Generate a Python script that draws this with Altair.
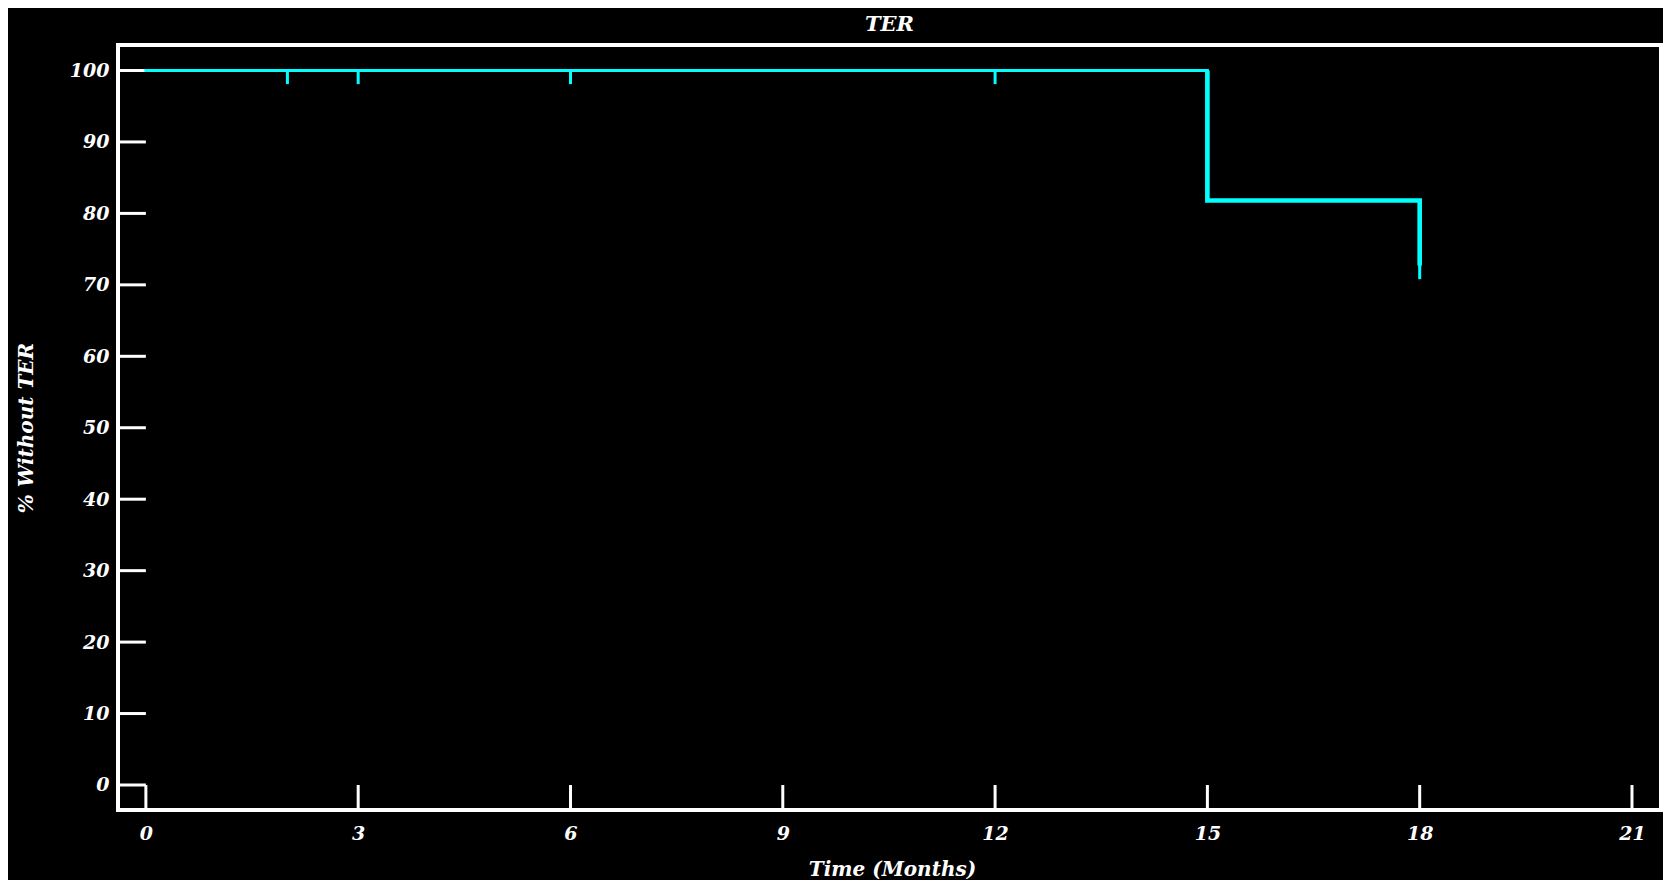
import altair as alt
import pandas as pd

# ---- data ----
km_time = [0, 15, 18]            # months at which the survival curve changes
km_surv = [100, 81.8, 72.7]      # % without TER
censor_time = [2, 3, 6, 12, 18]  # censored observations
censor_surv = [100, 100, 100, 100, 72.7]
x_ticks = [0, 3, 6, 9, 12, 15, 18, 21]
y_ticks = [0, 10, 20, 30, 40, 50, 60, 70, 80, 90, 100]

X_DOMAIN = [-0.394, 21.41]
Y_DOMAIN = [-3.5, 103.57]
CENSOR_LEN = 1.9

W, H = 1543, 765
FONT = "DejaVu Serif"
CYAN = "#00FFFF"

xs = alt.Scale(domain=X_DOMAIN, nice=False, zero=False)
ys = alt.Scale(domain=Y_DOMAIN, nice=False, zero=False)

x_axis = alt.Axis(
    values=x_ticks, title="Time (Months)", ticks=False, tickSize=0, domain=False, grid=False,
    labelPadding=23, labelBaseline="middle", labelFlush=False, labelOverlap=False,
    titleX=774, titleY=59, titleAlign="center", titleBaseline="middle",
)
y_axis = alt.Axis(
    values=y_ticks, title="% Without TER", ticks=False, tickSize=0, domain=False, grid=False,
    labelPadding=9, labelBaseline="middle", labelFlush=False, labelOverlap=False,
    titleX=-92, titleY=H / 2, titleAngle=270, titleAlign="center", titleBaseline="middle",
)

X = alt.X("x:Q", scale=xs, axis=x_axis)
Y = alt.Y("y:Q", scale=ys, axis=y_axis)

# KM step curve
km_df = pd.DataFrame({"x": km_time, "y": km_surv})
# later (thicker) part of the curve, from the first drop onward
late_df = pd.DataFrame({"x": [km_time[1]] + km_time[1:], "y": [km_surv[0]] + km_surv[1:]})

cens_df = pd.DataFrame({"x": censor_time, "y": censor_surv})
cens_df["y2"] = cens_df["y"] - CENSOR_LEN

ytick_df = pd.DataFrame({"y": y_ticks, "x": X_DOMAIN[0], "x2": 0})
xtick_df = pd.DataFrame({"x": x_ticks, "y": Y_DOMAIN[0], "y2": 0})

ytick_layer = alt.Chart(ytick_df).mark_rule(color="white", strokeWidth=3).encode(
    x=X, x2="x2:Q", y=Y
)
xtick_layer = alt.Chart(xtick_df).mark_rule(color="white", strokeWidth=3).encode(
    x=X, y=Y, y2="y2:Q"
)
km_layer = alt.Chart(km_df).mark_line(
    color=CYAN, strokeWidth=3, interpolate="step-after", strokeCap="square"
).encode(x=X, y=Y)
late_layer = alt.Chart(late_df).mark_line(
    color=CYAN, strokeWidth=4.6, interpolate="step-after", strokeCap="butt"
).encode(x=X, y=Y)
cens_layer = alt.Chart(cens_df).mark_rule(color=CYAN, strokeWidth=3).encode(
    x=X, y=Y, y2="y2:Q"
)

chart = (
    alt.layer(ytick_layer, xtick_layer, km_layer, late_layer, cens_layer)
    .properties(
        width=W,
        height=H,
        autosize=alt.AutoSizeParams(type="none"),
        padding={"left": 110, "top": 37, "right": 2, "bottom": 70},
        title=alt.Title(
            "TER", font=FONT, fontSize=21, fontWeight="bold", fontStyle="italic",
            color="white", anchor="middle", frame="group", offset=10,
        ),
        background="black",
    )
    .configure_view(stroke="white", strokeWidth=4)
    .configure_axis(
        labelFont=FONT, labelFontSize=19, labelFontWeight="bold", labelFontStyle="italic",
        labelColor="white",
        titleFont=FONT, titleFontSize=20, titleFontWeight="bold", titleFontStyle="italic",
        titleColor="white",
    )
)

chart.save("out.html", embed_options={"renderer": "svg", "actions": False})
